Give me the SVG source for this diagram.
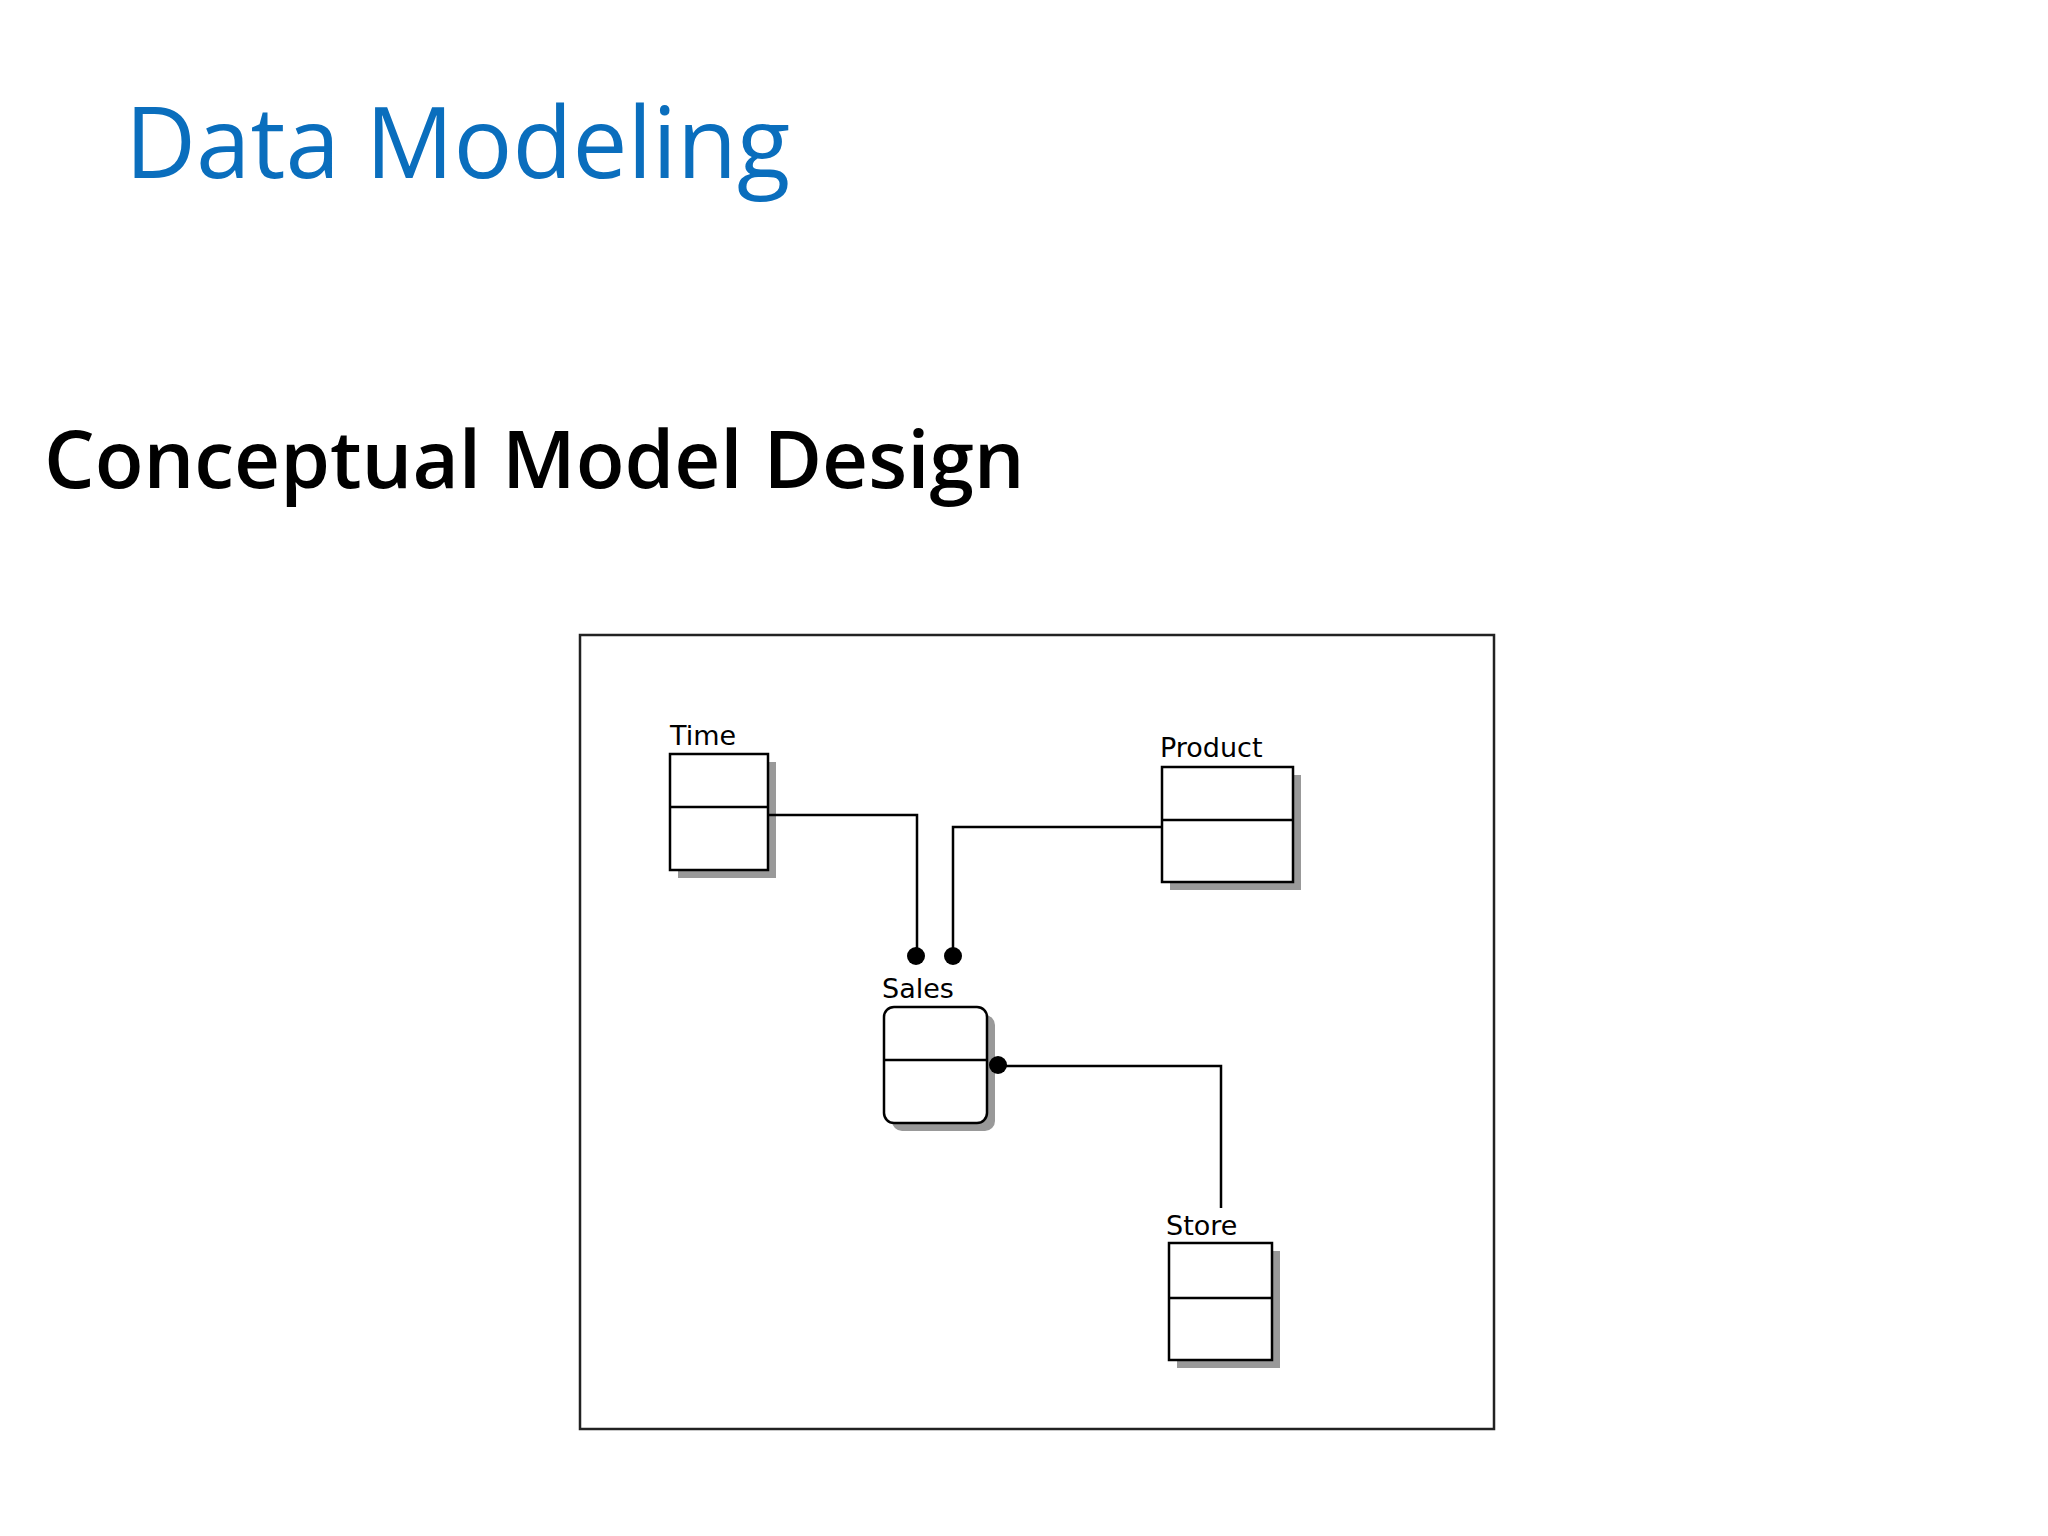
<svg xmlns="http://www.w3.org/2000/svg" width="2048" height="1536" viewBox="0 0 2048 1536">
<style>
.box{fill:#fff;stroke:#000;stroke-width:2.5}
.sh{fill:#999}
.lbl{font-family:"DejaVu Sans",sans-serif;font-size:27px;fill:#000}
.ln{fill:none;stroke:#000;stroke-width:2.5}
</style>
<rect width="2048" height="1536" fill="#fff"/>
<text x="125" y="178" font-family="Open Sans,sans-serif" font-size="98" fill="#0A6EBD">Data Modeling</text>
<text x="44" y="488" font-family="Open Sans,sans-serif" font-size="80" font-weight="600" fill="#000">Conceptual Model Design</text>
<rect x="580" y="635" width="914" height="794" fill="#fff" stroke="#222" stroke-width="2.5"/>
<g id="time">
<rect class="sh" x="678" y="762" width="98" height="116"/>
<rect class="box" x="670" y="754" width="98" height="116"/>
<line class="ln" x1="670" y1="807" x2="768" y2="807"/>
<text class="lbl" x="670" y="745">Time</text>
</g>
<g id="product">
<rect class="sh" x="1170" y="775" width="131" height="115"/>
<rect class="box" x="1162" y="767" width="131" height="115"/>
<line class="ln" x1="1162" y1="820" x2="1293" y2="820"/>
<text class="lbl" x="1160" y="757">Product</text>
</g>
<g id="sales">
<rect class="sh" x="892" y="1015" width="103" height="116" rx="10"/>
<rect class="box" x="884" y="1007" width="103" height="116" rx="10"/>
<line class="ln" x1="884" y1="1060" x2="987" y2="1060"/>
<text class="lbl" x="882" y="998">Sales</text>
</g>
<g id="store">
<rect class="sh" x="1177" y="1251" width="103" height="117"/>
<rect class="box" x="1169" y="1243" width="103" height="117"/>
<line class="ln" x1="1169" y1="1298" x2="1272" y2="1298"/>
<text class="lbl" x="1166" y="1235">Store</text>
</g>
<g id="connectors">
<polyline class="ln" points="768,815 917,815 917,956"/>
<polyline class="ln" points="1162,827 953,827 953,956"/>
<polyline class="ln" points="998,1066 1221,1066 1221,1208"/>
<circle cx="916" cy="956" r="9"/>
<circle cx="953" cy="956" r="9"/>
<circle cx="998" cy="1065" r="9"/>
</g>
</svg>
